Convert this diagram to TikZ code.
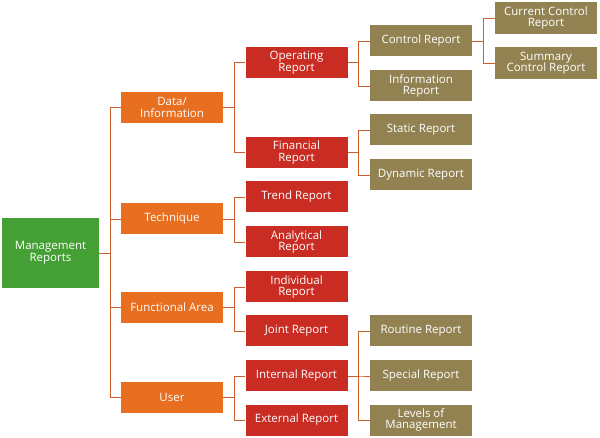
\documentclass[tikz,border=0pt]{standalone}
\usepackage{fontspec}
\setmainfont{Open Sans}
\definecolor{cgreen}{RGB}{68,160,52}
\definecolor{corange}{RGB}{232,110,32}
\definecolor{cred}{RGB}{200,44,34}
\definecolor{colive}{RGB}{146,130,82}
\definecolor{cline}{RGB}{205,95,45}
\begin{document}
\begin{tikzpicture}[x=1pt,y=-1pt,
 box/.style={minimum width=102pt,minimum height=31pt,inner sep=1pt,align=center,text=white,font=\fontsize{11.5}{11.5}\selectfont},
 lk/.style={draw=cline,line width=0.8pt}]
\useasboundingbox (0,0) rectangle (600,438);
\node[box,fill=cgreen,minimum width=97pt,minimum height=70pt] (root) at (50.5,253) {Management\\Reports};
\node[box,fill=corange] (data) at (172,107.5) {Data/\\Information};
\node[box,fill=corange] (tech) at (172,219) {Technique};
\node[box,fill=corange] (func) at (172,307.5) {Functional Area};
\node[box,fill=corange] (user) at (172,397.5) {User};
\node[box,fill=cred] (oper) at (296.5,62.5) {Operating\\Report};
\node[box,fill=cred] (fin) at (296.5,152.5) {Financial\\Report};
\node[box,fill=cred] (trend) at (296.5,197) {Trend Report};
\node[box,fill=cred] (anal) at (296.5,242) {Analytical\\Report};
\node[box,fill=cred] (indiv) at (296.5,287) {Individual\\Report};
\node[box,fill=cred] (joint) at (296.5,331) {Joint Report};
\node[box,fill=cred] (inter) at (296.5,376) {Internal Report};
\node[box,fill=cred] (exter) at (296.5,420) {External Report};
\node[box,fill=colive] (ctrl) at (421,41) {Control Report};
\node[box,fill=colive] (info) at (421,86) {Information\\Report};
\node[box,fill=colive] (stat) at (421,130) {Static Report};
\node[box,fill=colive] (dyn) at (421,175) {Dynamic Report};
\node[box,fill=colive] (rout) at (421,331) {Routine Report};
\node[box,fill=colive] (spec) at (421,376) {Special Report};
\node[box,fill=colive] (lev) at (421,420) {Levels of\\Management};
\node[box,fill=colive,minimum height=32pt] (cur) at (546,18) {Current Control\\Report};
\node[box,fill=colive,minimum height=32pt] (sum) at (546,63) {Summary\\Control Report};
\foreach \p/\cs in {root/{data,tech,func,user},data/{oper,fin},tech/{trend,anal},func/{indiv,joint},user/{inter,exter},oper/{ctrl,info},fin/{stat,dyn},inter/{rout,spec,lev},ctrl/{cur,sum}}
 \foreach \c in \cs \draw[lk] (\p.east) -- ++(11,0) |- (\c.west);
\end{tikzpicture}
\end{document}
